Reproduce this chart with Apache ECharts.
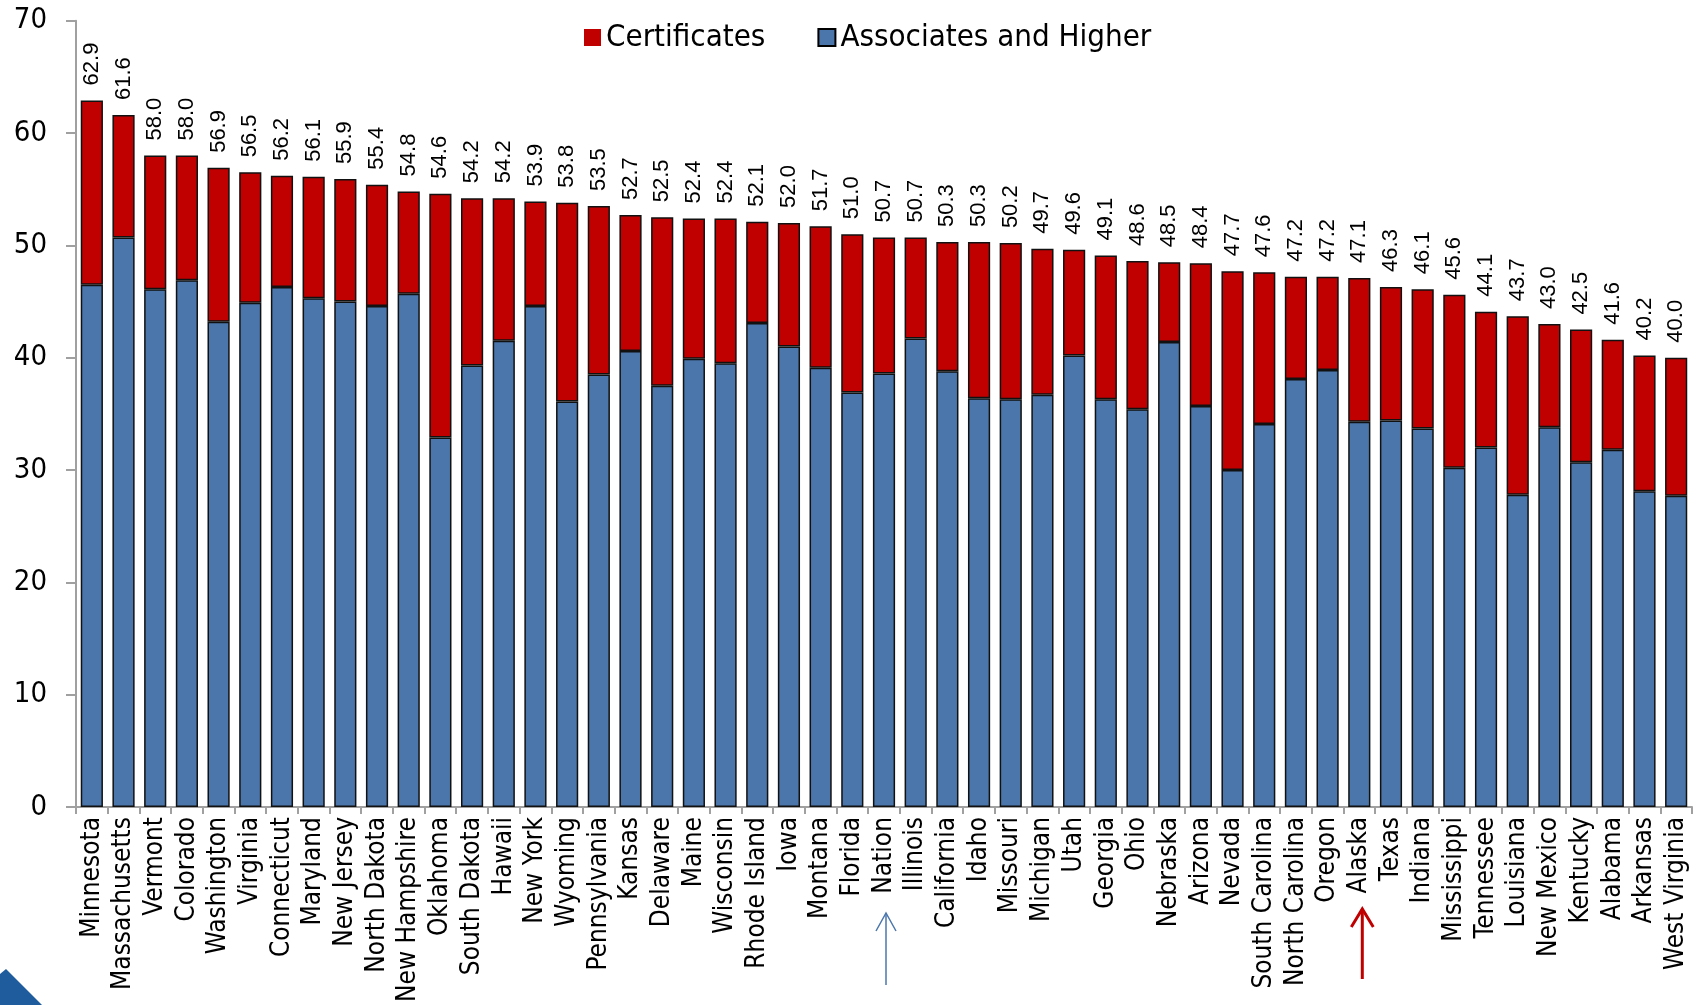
<!DOCTYPE html>
<html>
<head>
<meta charset="utf-8">
<script src="https://cdn.jsdelivr.net/npm/echarts@6/dist/echarts.min.js"></script>
<style>
html,body{margin:0;padding:0;background:#fff;}
#main{width:1706px;height:1005px;}
</style>
</head>
<body>
<div id="main"></div>
<script>
const categories = ['Minnesota','Massachusetts','Vermont','Colorado','Washington','Virginia','Connecticut','Maryland','New Jersey','North Dakota','New Hampshire','Oklahoma','South Dakota','Hawaii','New York','Wyoming','Pennsylvania','Kansas','Delaware','Maine','Wisconsin','Rhode Island','Iowa','Montana','Florida','Nation','Illinois','California','Idaho','Missouri','Michigan','Utah','Georgia','Ohio','Nebraska','Arizona','Nevada','South Carolina','North Carolina','Oregon','Alaska','Texas','Indiana','Mississippi','Tennessee','Louisiana','New Mexico','Kentucky','Alabama','Arkansas','West Virginia'];

const totals = [62.9,61.6,58.0,58.0,56.9,56.5,56.2,56.1,55.9,55.4,54.8,54.6,54.2,54.2,53.9,53.8,53.5,52.7,52.5,52.4,52.4,52.1,52.0,51.7,51.0,50.7,50.7,50.3,50.3,50.2,49.7,49.6,49.1,48.6,48.5,48.4,47.7,47.6,47.2,47.2,47.1,46.3,46.1,45.6,44.1,43.7,43.0,42.5,41.6,40.2,40.0];

const associates = [46.5,50.7,46.1,46.9,43.2,44.9,46.3,45.3,45.0,44.6,45.7,32.9,39.3,41.5,44.6,36.1,38.5,40.6,37.5,39.9,39.5,43.1,41.0,39.1,36.9,38.6,41.7,38.8,36.4,36.3,36.7,40.2,36.3,35.4,41.4,35.7,30.0,34.1,38.1,38.9,34.3,34.4,33.7,30.2,32.0,27.8,33.8,30.7,31.8,28.1,27.7];

const yTicks = [0,10,20,30,40,50,60,70];

const certificates = totals.map((t, i) => Math.round((t - associates[i]) * 10) / 10);

const FONT = "'DejaVu Sans Condensed', 'DejaVu Sans', sans-serif";
const RED = '#C00000';
const BLUE = '#4A76AB';

const chart = echarts.init(document.getElementById('main'), null, {renderer: 'canvas'});

chart.setOption({
  animation: false,
  backgroundColor: '#fff',
  grid: {left: 76, right: 14, top: 20.7, bottom: 196, containLabel: false},
  legend: {
    left: 579, top: 17,
    itemWidth: 17, itemHeight: 17, itemGap: 52,
    icon: 'rect',
    textStyle: {fontFamily: FONT, fontSize: 31, color: '#000'},
    data: [
      {name: 'Certificates', itemStyle: {color: RED, borderWidth: 0}},
      {name: 'Associates and Higher', itemStyle: {color: BLUE, borderColor: '#000', borderWidth: 2}}
    ]
  },
  xAxis: {
    type: 'category',
    data: categories,
    axisLine: {lineStyle: {color: '#a0a0a0', width: 2}},
    axisTick: {show: true, length: 7, lineStyle: {color: '#a0a0a0', width: 2}},
    axisLabel: {rotate: 90, interval: 0, margin: 10, fontFamily: FONT, fontSize: 26, color: '#000'},
    splitLine: {show: false}
  },
  yAxis: {
    type: 'value',
    min: yTicks[0], max: yTicks[yTicks.length - 1], interval: 10,
    axisLine: {show: true, lineStyle: {color: '#a0a0a0', width: 2}},
    axisTick: {show: true, length: 10, lineStyle: {color: '#a0a0a0', width: 2}},
    axisLabel: {margin: 29, fontFamily: FONT, fontSize: 29, color: '#000'},
    splitLine: {show: false}
  },
  series: [
    {
      name: 'Associates and Higher',
      type: 'bar',
      stack: 'total',
      data: associates,
      barCategoryGap: '30%',
      itemStyle: {color: BLUE, borderColor: '#111', borderWidth: 1.5}
    },
    {
      name: 'Certificates',
      type: 'bar',
      stack: 'total',
      data: certificates,
      barCategoryGap: '30%',
      itemStyle: {color: RED, borderColor: '#111', borderWidth: 1.5},
      label: {
        show: true,
        position: 'top',
        distance: 15,
        rotate: 90,
        align: 'left',
        verticalAlign: 'middle',
        fontFamily: "'Liberation Sans', Arial, sans-serif",
        fontSize: 22,
        color: '#000',
        formatter: p => totals[p.dataIndex].toFixed(1)
      }
    }
  ]
});

function arrow(x, yTip, yTail, wing, wingDrop, color, width) {
  return [
    {type: 'line', shape: {x1: x, y1: yTail, x2: x, y2: yTip}, style: {stroke: color, lineWidth: width}},
    {type: 'polyline', shape: {points: [[x - wing, yTip + wingDrop], [x, yTip], [x + wing, yTip + wingDrop]]}, style: {stroke: color, lineWidth: width, fill: null}}
  ];
}

const xNation = chart.convertToPixel({xAxisIndex: 0}, 'Nation');
const xAlaska = chart.convertToPixel({xAxisIndex: 0}, 'Alaska');

chart.setOption({
  graphic: [
    ...arrow(xNation + 2, 913, 985, 10, 18, BLUE, 1.5),
    ...arrow(xAlaska + 3, 909, 979, 11, 18, RED, 3),
    {type: 'polygon', shape: {points: [[0, 974], [6, 969], [42, 1005], [0, 1005]]}, style: {fill: '#1F5C9E'}}
  ]
});
</script>
</body>
</html>
